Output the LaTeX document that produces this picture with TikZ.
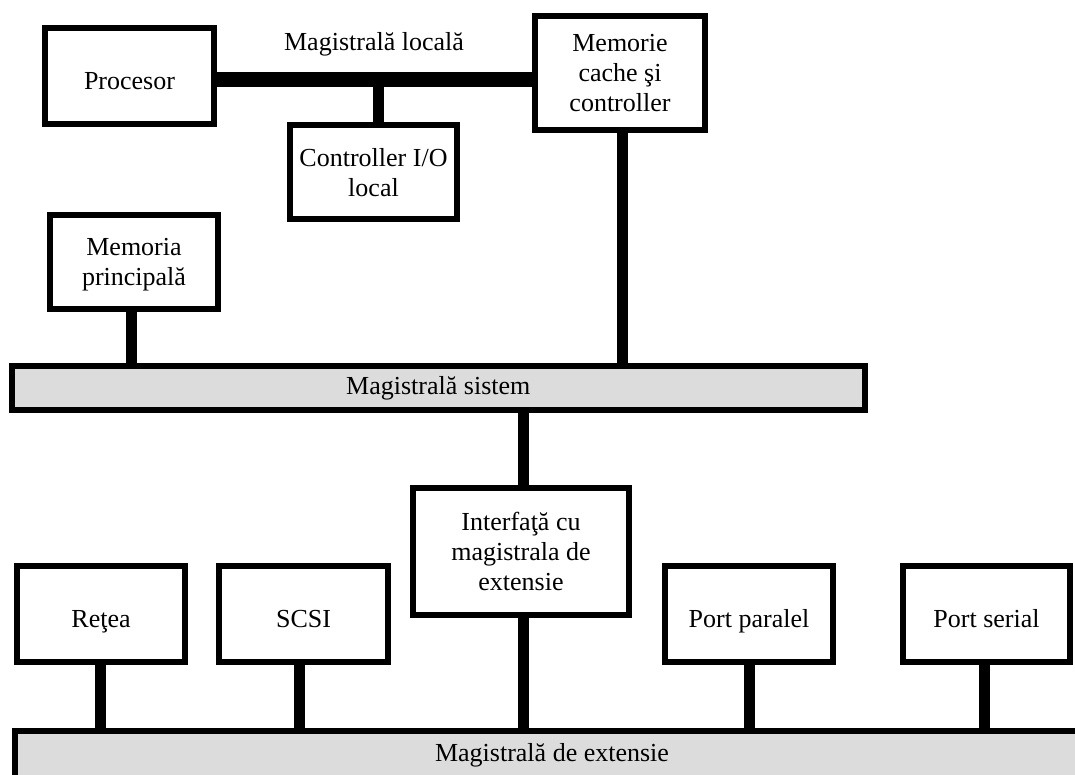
\documentclass[tikz,border=0pt]{standalone}
\usepackage{fontspec}
\setmainfont{Liberation Serif}
\definecolor{busgray}{RGB}{220,220,220}
\begin{document}
\begin{tikzpicture}[x=1pt,y=-1pt,
  box/.style={draw, line width=6pt, inner sep=0pt, align=center, fill=white,
    text depth=0pt, font=\fontsize{26}{30}\selectfont},
  oneline/.style={box, text height=27pt},
  busbar/.style={draw, line width=6pt, inner sep=0pt, fill=busgray,
    font=\fontsize{26}{30}\selectfont},
  link/.style={line width=11pt},
  localbus/.style={line width=15pt},
  label/.style={font=\fontsize{26}{30}\selectfont}]
\useasboundingbox (0,0) rectangle (1075,774);
\clip (0,0) rectangle (1075,774);

% processor side
\node[oneline, minimum width=169pt, minimum height=96pt] (proc) at (129.5,76) {Procesor};
\node[box, minimum width=170pt, minimum height=114pt] (cache) at (620,73) {Memorie\\cache şi\\controller};
\node[box, minimum width=167pt, minimum height=94pt] (ctrl) at (373.5,172) {Controller I/O\\local};
\node[label] (lbl) at (374,44) {Magistrală locală};
\coordinate (lb) at (378,79.5);
\draw[localbus] (proc.east |- lb) -- (cache.west |- lb);
\draw[link] (lb) -- (ctrl.north -| lb);

% system bus
\node[box, minimum width=168pt, minimum height=94pt] (memp) at (134,262) {Memoria\\principală};
\node[busbar, minimum width=853pt, minimum height=44pt] (sysbus) at (438.3,388) {Magistrală sistem};
\coordinate (sm) at (131,0);
\coordinate (sc) at (622,0);
\draw[link] (memp.south -| sm) -- (sysbus.north -| sm);
\draw[link] (cache.south -| sc) -- (sysbus.north -| sc);

% expansion bus
\node[box, minimum width=216pt, minimum height=127pt] (iface) at (521,551.5) {Interfaţă cu\\magistrala de\\extensie};
\node[busbar, minimum width=1074pt, minimum height=48pt] (extbus) at (552,755) {Magistrală de extensie};
\coordinate (si) at (523,0);
\draw[link] (sysbus.south -| si) -- (iface.north -| si);
\draw[link] (iface.south -| si) -- (extbus.north -| si);

\node[oneline, minimum width=168.5pt, minimum height=96pt] (rete) at (101,614) {Reţea};
\node[oneline, minimum width=169pt, minimum height=96pt] (scsi) at (303.5,614) {SCSI};
\node[oneline, minimum width=168pt, minimum height=96pt] (ppar) at (749,614) {Port paralel};
\node[oneline, minimum width=167pt, minimum height=96pt] (pser) at (986.5,614) {Port serial};
\coordinate (sr) at (100,0);
\coordinate (ss) at (299,0);
\coordinate (sp) at (749,0);
\coordinate (sx) at (984,0);
\draw[link] (rete.south -| sr) -- (extbus.north -| sr);
\draw[link] (scsi.south -| ss) -- (extbus.north -| ss);
\draw[link] (ppar.south -| sp) -- (extbus.north -| sp);
\draw[link] (pser.south -| sx) -- (extbus.north -| sx);
\end{tikzpicture}
\end{document}
